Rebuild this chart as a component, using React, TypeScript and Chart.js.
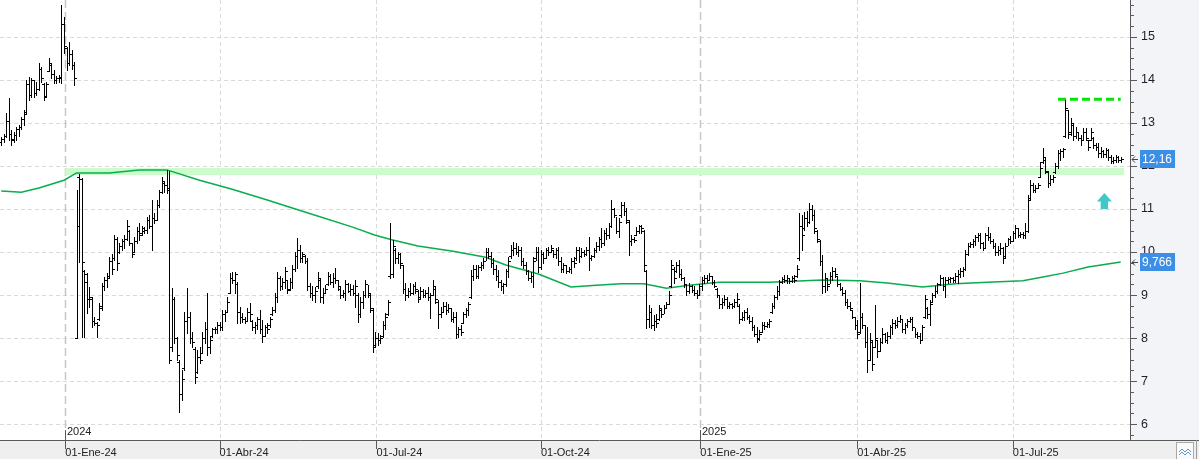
import React, { useEffect, useRef } from 'react';
import { Chart, registerables } from 'chart.js';
Chart.register(...registerables);

// ---- axis data ----
const tickIdx = [25.5, 87, 149.5, 215, 278.5, 341, 403];
const tickLabels = ['01-Ene-24', '01-Abr-24', '01-Jul-24', '01-Oct-24', '01-Ene-25', '01-Abr-25', '01-Jul-25'];
const yearIdx = [25.5, 278.5];
const yearLabels = ['2024', '2025'];
const yTicks = [6, 7, 8, 9, 10, 11, 12, 13, 14, 15];

// ---- OHLC series (daily bars) ----
const highs = [
  12.67,12.75,13.23,13.58,12.84,12.80,12.91,12.95,13.15,13.30,
  14.00,14.08,14.05,14.00,13.95,14.39,14.30,13.92,13.95,14.50,
  14.40,14.23,14.10,14.12,15.74,15.46,14.77,14.88,14.70,14.42,
  11.44,11.81,11.72,9.58,9.51,9.19,8.95,8.49,8.37,8.81,
  9.28,9.42,9.51,9.88,9.95,10.40,10.35,10.21,10.30,10.40,
  10.74,10.51,10.21,10.35,10.58,10.67,10.60,10.58,10.81,10.85,
  11.21,10.90,11.21,11.45,11.74,11.63,11.91,11.88,9.16,8.95,
  8.02,7.49,7.26,8.60,9.16,8.60,8.14,7.79,7.72,7.79,
  8.14,8.37,9.05,8.02,8.23,8.26,8.37,8.37,8.65,8.65,
  8.95,9.51,9.53,9.53,9.30,8.72,8.58,8.49,8.70,8.81,
  8.42,8.37,8.50,8.65,8.42,8.30,8.35,8.49,8.72,9.05,
  9.53,9.45,9.39,9.65,9.35,9.39,9.70,10.00,10.33,10.16,
  10.00,9.92,9.85,9.28,9.20,9.19,9.53,9.40,9.16,9.23,
  9.53,9.50,9.51,9.63,9.35,9.20,9.12,9.35,9.28,9.25,
  9.23,9.35,9.05,8.95,9.10,9.35,9.23,9.05,8.70,8.14,
  8.12,8.07,8.40,8.58,8.88,10.67,10.28,10.10,10.00,9.98,
  9.70,9.28,9.16,9.28,9.25,9.30,9.12,9.19,9.15,9.12,
  9.19,9.05,9.35,9.20,8.88,8.72,8.84,8.84,8.80,8.70,
  8.60,8.60,8.26,8.30,8.60,8.70,8.84,9.58,9.70,9.70,
  9.70,9.77,9.86,10.09,10.09,10.00,9.85,9.70,9.58,9.35,
  9.28,9.60,9.88,10.16,10.23,10.20,10.15,10.12,9.85,9.77,
  9.58,9.53,9.88,10.12,10.12,10.05,10.00,10.10,10.12,10.16,
  10.05,10.10,10.12,9.88,9.75,9.70,9.65,9.86,9.88,10.12,
  10.12,10.10,10.05,10.12,10.35,9.93,10.10,10.23,10.35,10.56,
  10.51,10.55,10.67,11.21,11.02,10.81,10.79,11.16,11.16,11.02,
  10.74,10.40,10.35,10.58,10.63,10.63,10.51,9.58,8.77,8.70,
  8.53,8.55,8.77,8.70,8.77,8.84,9.10,9.81,9.65,9.77,
  9.81,9.60,9.42,9.23,9.28,9.23,9.20,9.12,9.25,9.42,
  9.46,9.46,9.51,9.45,9.35,9.16,9.00,8.93,9.00,8.95,
  8.84,8.81,8.90,9.05,8.80,8.60,8.65,8.70,8.53,8.49,
  8.30,8.26,8.19,8.37,8.37,8.37,8.44,8.81,9.00,9.20,
  9.35,9.42,9.46,9.46,9.39,9.45,9.46,9.70,10.90,10.86,
  10.93,10.95,11.14,11.10,10.98,10.51,10.28,9.93,9.51,9.40,
  9.53,9.65,9.63,9.45,9.28,9.19,9.12,8.90,8.84,8.65,
  8.50,8.42,9.28,8.58,8.30,8.26,8.12,7.95,8.77,7.95,
  8.00,8.23,8.12,8.14,8.30,8.44,8.42,8.48,8.53,8.45,
  8.35,8.45,8.49,8.49,8.23,8.15,8.12,8.30,9.00,8.72,
  8.88,9.05,9.20,9.28,9.46,9.42,9.42,9.42,9.42,9.42,
  9.51,9.58,9.63,9.65,10.05,10.21,10.23,10.30,10.40,10.44,
  10.44,10.23,10.45,10.58,10.44,10.30,10.21,10.15,10.21,10.12,
  10.21,10.33,10.38,10.50,10.63,10.55,10.47,10.47,10.67,11.33,
  11.67,11.60,11.55,11.60,12.09,12.42,12.20,11.88,11.79,11.80,
  12.07,12.37,12.40,12.42,13.53,13.30,13.12,13.00,12.90,12.80,
  12.72,12.88,12.88,12.60,12.88,12.67,12.53,12.53,12.45,12.37,
  12.42,12.40,12.26,12.22,12.26,12.24,12.21,
];
const lows = [
  12.50,12.55,12.67,12.60,12.50,12.55,12.60,12.70,12.85,12.95,
  13.23,13.53,13.60,13.60,13.65,13.77,13.95,13.53,13.60,14.20,
  14.05,13.92,13.92,13.95,13.93,14.63,14.23,14.35,14.25,13.88,
  8.00,9.77,8.02,8.02,8.58,8.72,8.26,8.30,8.02,8.42,
  8.65,9.12,9.19,9.42,9.50,9.81,9.58,9.98,10.05,10.09,
  10.28,10.16,9.88,10.00,10.21,10.28,10.40,10.44,10.44,10.55,
  10.05,10.67,10.74,11.05,11.37,11.40,11.37,7.42,7.70,7.88,
  7.49,6.28,6.56,7.26,8.12,7.88,7.79,6.95,7.19,7.42,
  7.65,7.88,7.60,7.65,8.02,8.12,8.12,8.19,8.19,8.40,
  8.60,9.05,9.28,9.05,8.35,8.35,8.37,8.35,8.40,8.42,
  8.19,8.12,8.20,8.12,7.91,8.05,8.12,8.26,8.53,8.60,
  8.84,9.12,9.15,9.16,9.05,9.12,9.16,9.55,9.63,9.77,
  9.77,9.74,9.12,8.95,8.88,8.84,9.16,8.85,8.81,9.05,
  9.23,9.25,9.19,9.28,9.12,8.93,8.95,8.88,9.07,9.00,
  9.00,8.72,8.37,8.49,8.70,8.95,8.95,8.60,7.67,7.79,
  7.84,7.88,8.02,8.20,8.53,9.40,9.42,9.74,9.74,9.63,
  9.05,8.88,8.95,9.00,9.02,9.05,8.84,8.93,8.95,8.95,
  8.88,8.47,9.00,8.81,8.23,8.49,8.60,8.55,8.60,8.40,
  8.37,8.00,8.02,8.07,8.35,8.50,8.53,8.93,9.35,9.39,
  9.40,9.58,9.63,9.81,9.85,9.65,9.50,9.35,9.19,9.12,
  9.05,9.20,9.42,9.86,9.93,9.95,9.90,9.70,9.63,9.50,
  9.35,9.30,9.19,9.81,9.53,9.60,9.74,9.85,9.93,10.00,
  9.88,9.85,9.70,9.53,9.53,9.51,9.53,9.51,9.65,9.81,
  9.77,9.88,9.90,9.93,9.58,9.81,9.88,10.00,10.05,10.12,
  10.16,10.30,10.33,10.58,10.81,10.44,10.35,10.81,10.85,10.67,
  9.93,10.16,10.23,10.40,10.44,10.45,9.58,8.23,8.26,8.23,
  8.19,8.25,8.42,8.49,8.58,8.70,8.80,9.19,9.28,9.53,
  9.42,9.35,9.19,9.00,9.05,9.07,9.00,8.93,9.00,9.12,
  9.28,9.30,9.35,9.25,9.19,8.95,8.70,8.70,8.77,8.70,
  8.70,8.70,8.72,8.77,8.35,8.42,8.42,8.45,8.35,8.19,
  8.05,7.91,7.95,8.14,8.20,8.26,8.26,8.58,8.70,8.90,
  9.00,9.28,9.30,9.28,9.28,9.30,9.30,9.42,9.81,10.05,
  10.51,10.60,10.67,10.75,10.44,10.23,9.70,9.05,9.07,9.12,
  9.28,9.35,9.42,9.20,9.12,9.00,8.77,8.70,8.65,8.47,
  8.20,8.00,8.12,8.23,7.80,7.21,7.49,7.26,7.79,7.56,
  7.70,7.88,7.90,7.88,8.00,8.10,8.23,8.25,8.37,8.15,
  8.12,8.25,8.37,8.19,8.02,8.00,7.88,7.95,8.47,8.47,
  8.30,8.84,8.95,9.05,9.23,9.12,8.95,9.28,9.30,9.30,
  9.30,9.28,9.42,9.45,9.58,9.93,10.12,10.12,10.16,10.25,
  10.09,10.05,10.10,10.28,10.21,10.10,9.93,9.93,9.95,9.74,
  9.88,10.16,10.20,10.25,10.33,10.35,10.35,10.33,10.33,10.47,
  11.21,11.40,11.40,11.49,11.74,12.07,11.84,11.51,11.55,11.63,
  11.84,11.95,12.14,12.20,12.67,12.65,12.72,12.60,12.65,12.60,
  12.49,12.60,12.60,12.37,12.60,12.42,12.37,12.21,12.21,12.21,
  12.21,12.15,12.07,12.07,12.09,12.10,12.09,
];
const opens = [
  12.55,12.62,12.70,13.05,12.75,12.60,12.72,12.85,12.90,13.10,
  13.25,13.90,13.65,14.00,13.70,13.80,14.25,13.90,13.62,14.20,
  14.35,14.15,14.00,14.05,14.05,15.30,14.75,14.40,14.60,14.35,
  8.00,11.75,11.70,9.55,9.30,8.90,8.90,8.40,8.35,8.45,
  8.70,9.20,9.35,9.45,9.80,9.85,10.30,10.00,10.15,10.25,
  10.30,10.50,10.20,10.00,10.25,10.50,10.45,10.50,10.52,10.75,
  10.60,10.80,10.75,11.10,11.40,11.60,11.55,11.45,7.80,8.90,
  8.00,7.45,6.70,7.30,8.40,8.50,8.00,7.75,7.20,7.55,
  7.65,8.00,8.20,7.80,8.05,8.20,8.20,8.30,8.25,8.55,
  8.60,9.05,9.40,9.35,9.25,8.60,8.50,8.45,8.40,8.60,
  8.40,8.25,8.30,8.45,8.20,8.05,8.25,8.30,8.55,8.65,
  8.95,9.40,9.20,9.30,9.35,9.15,9.30,9.60,9.90,10.05,
  9.85,9.90,9.80,9.20,9.05,9.00,9.20,9.35,8.95,9.05,
  9.25,9.45,9.30,9.40,9.35,9.15,9.00,9.05,9.25,9.10,
  9.15,9.05,9.00,8.55,8.85,9.00,9.25,9.00,8.65,7.85,
  8.00,7.95,8.05,8.30,8.55,9.45,9.50,10.05,9.85,9.95,
  9.70,9.15,9.00,9.10,9.05,9.20,9.10,8.95,9.10,9.00,
  9.05,8.95,9.00,9.15,8.85,8.55,8.60,8.75,8.65,8.70,
  8.45,8.50,8.10,8.20,8.35,8.55,8.65,8.95,9.45,9.60,
  9.45,9.65,9.70,9.80,10.00,9.90,9.75,9.60,9.45,9.30,
  9.20,9.25,9.55,9.90,10.05,10.10,10.00,10.05,9.80,9.70,
  9.55,9.40,9.45,9.85,10.00,9.65,9.95,9.85,10.05,10.00,
  10.05,9.95,10.05,9.80,9.60,9.70,9.55,9.60,9.80,9.85,
  10.05,9.90,10.00,9.95,10.05,9.85,9.90,10.05,10.15,10.30,
  10.20,10.45,10.40,10.60,11.00,10.85,10.50,10.85,11.10,10.95,
  10.70,10.25,10.30,10.40,10.50,10.60,10.50,9.55,8.45,8.60,
  8.30,8.40,8.45,8.65,8.55,8.70,8.80,9.20,9.60,9.55,
  9.70,9.50,9.40,9.25,9.10,9.20,9.12,9.05,9.00,9.20,
  9.35,9.40,9.35,9.45,9.30,9.15,9.00,8.80,8.85,8.90,
  8.75,8.80,8.75,8.85,8.75,8.45,8.50,8.60,8.50,8.40,
  8.25,8.10,8.00,8.15,8.30,8.28,8.32,8.60,8.75,8.95,
  9.10,9.30,9.38,9.35,9.40,9.32,9.40,9.45,9.85,10.60,
  10.55,10.80,10.70,11.00,10.85,10.50,10.25,9.80,9.20,9.40,
  9.25,9.45,9.55,9.45,9.25,9.15,9.05,8.85,8.75,8.65,
  8.50,8.30,8.15,8.50,8.30,7.90,7.50,7.90,7.80,7.95,
  7.70,7.90,8.10,7.95,8.05,8.25,8.35,8.30,8.40,8.45,
  8.20,8.30,8.40,8.45,8.25,8.10,8.05,7.95,8.50,8.70,
  8.55,8.85,9.00,9.10,9.25,9.40,9.20,9.35,9.38,9.40,
  9.35,9.45,9.50,9.55,9.60,9.95,10.15,10.18,10.25,10.35,
  10.40,10.20,10.10,10.40,10.35,10.25,10.15,10.00,10.05,10.10,
  9.90,10.15,10.30,10.25,10.45,10.55,10.40,10.42,10.40,10.50,
  11.25,11.55,11.45,11.50,11.75,12.10,12.15,11.85,11.60,11.70,
  11.85,12.00,12.30,12.35,12.70,13.30,12.80,12.95,12.70,12.80,
  12.65,12.60,12.80,12.60,12.60,12.65,12.50,12.45,12.30,12.35,
  12.28,12.38,12.20,12.12,12.15,12.20,12.14,
];
const closes = [
  12.62,12.70,13.05,12.75,12.62,12.72,12.85,12.90,13.10,13.20,
  13.90,13.65,14.00,13.70,13.80,14.25,14.05,13.60,13.90,14.40,
  14.15,14.00,14.05,14.08,15.30,14.80,14.40,14.60,14.35,14.05,
  10.60,11.70,9.77,9.50,8.90,8.95,8.40,8.35,8.30,8.75,
  9.20,9.35,9.40,9.80,9.60,10.30,9.75,10.15,10.25,10.30,
  10.60,10.20,9.95,10.25,10.50,10.40,10.55,10.52,10.75,10.60,
  10.80,10.75,11.10,11.40,11.65,11.55,11.50,7.50,8.90,8.00,
  7.60,6.70,7.05,8.40,8.50,8.00,7.90,7.10,7.55,7.50,
  8.00,8.20,7.80,7.95,8.20,8.20,8.30,8.25,8.55,8.60,
  8.85,9.40,9.35,9.50,8.60,8.50,8.45,8.40,8.60,8.55,
  8.25,8.30,8.45,8.20,8.05,8.25,8.20,8.45,8.65,8.95,
  9.40,9.20,9.30,9.55,9.12,9.30,9.60,9.90,10.05,9.85,
  9.95,9.80,9.20,9.05,9.00,9.10,9.40,8.95,9.05,9.15,
  9.45,9.30,9.40,9.35,9.20,9.00,9.05,9.25,9.10,9.15,
  9.05,9.20,8.55,8.85,9.00,9.25,9.05,8.70,7.80,8.00,
  7.95,8.00,8.30,8.50,8.85,9.50,10.15,9.85,9.95,9.75,
  9.15,9.00,9.10,9.05,9.20,9.15,8.90,9.10,9.00,9.05,
  8.95,9.00,9.20,8.90,8.55,8.60,8.75,8.65,8.70,8.45,
  8.50,8.10,8.20,8.15,8.55,8.65,8.80,9.45,9.60,9.45,
  9.65,9.70,9.80,10.00,9.90,9.75,9.60,9.45,9.30,9.20,
  9.25,9.55,9.80,10.05,10.10,10.00,10.05,9.80,9.70,9.55,
  9.40,9.45,9.80,10.00,9.65,9.95,9.85,10.05,10.00,10.10,
  9.95,10.05,9.80,9.60,9.70,9.55,9.60,9.80,9.75,10.05,
  9.90,10.00,9.95,10.05,9.85,9.90,10.05,10.15,10.30,10.20,
  10.45,10.40,10.60,11.00,10.85,10.50,10.70,11.10,10.95,10.75,
  10.25,10.30,10.28,10.50,10.60,10.55,9.70,8.45,8.60,8.30,
  8.40,8.35,8.70,8.55,8.70,8.80,9.00,9.70,9.40,9.70,
  9.50,9.40,9.25,9.10,9.20,9.12,9.05,9.00,9.20,9.35,
  9.40,9.35,9.45,9.30,9.22,9.00,8.80,8.85,8.90,8.75,
  8.80,8.75,8.85,8.90,8.45,8.50,8.60,8.50,8.40,8.25,
  8.10,7.98,8.10,8.30,8.28,8.32,8.40,8.75,8.95,9.10,
  9.30,9.38,9.35,9.40,9.32,9.40,9.35,9.60,10.60,10.40,
  10.80,10.70,11.00,10.85,10.55,10.30,9.80,9.20,9.40,9.20,
  9.45,9.55,9.50,9.25,9.15,9.05,8.85,8.75,8.70,8.50,
  8.30,8.10,8.50,8.30,7.90,7.50,7.95,7.40,8.00,7.70,
  7.90,8.10,7.95,8.05,8.25,8.35,8.30,8.40,8.45,8.20,
  8.30,8.40,8.45,8.25,8.10,8.05,7.95,8.25,8.90,8.55,
  8.80,9.00,9.10,9.25,9.40,9.20,9.35,9.38,9.40,9.35,
  9.45,9.50,9.55,9.60,9.95,10.15,10.18,10.25,10.35,10.40,
  10.20,10.10,10.40,10.35,10.25,10.15,10.00,10.05,10.10,9.85,
  10.15,10.30,10.25,10.45,10.55,10.40,10.42,10.40,10.50,11.20,
  11.55,11.45,11.50,11.55,11.95,12.20,11.88,11.60,11.70,11.75,
  12.00,12.30,12.35,12.40,13.35,12.75,13.00,12.70,12.80,12.65,
  12.60,12.80,12.65,12.45,12.80,12.50,12.45,12.30,12.35,12.28,
  12.38,12.20,12.12,12.15,12.20,12.14,12.16,
];

// ---- moving average (read at bar indices) ----
const maIdx = [0, 8, 15, 25, 30, 43, 55, 66, 79, 92, 106, 115, 126, 140, 149, 156, 166, 180, 193, 201, 214, 227, 237, 247, 256, 265, 274, 286, 306, 327, 342, 353, 367, 380, 393, 407, 415, 423, 433, 446];
const maVals = [11.42, 11.39, 11.49, 11.67, 11.84, 11.84, 11.91, 11.91, 11.67, 11.46, 11.21, 11.04, 10.84, 10.58, 10.39, 10.28, 10.14, 10.02, 9.88, 9.70, 9.49, 9.19, 9.23, 9.26, 9.26, 9.16, 9.23, 9.30, 9.30, 9.35, 9.33, 9.28, 9.19, 9.26, 9.30, 9.33, 9.42, 9.51, 9.65, 9.766];

// ---- annotations ----
const bandStart = 25.5;
const bandEnd = 447.3;
const bandLow = 11.79;
const bandHigh = 11.95;
const levelStart = 421;
const levelEnd = 446;
const levelValue = 13.55;
const arrowIdx = 439.5;
const arrowTip = 11.37;

const xMin = -0.5;
const xMax = 449.7;
const yMin = 5.63;
const yMax = 15.86;

const FONT = 'Liberation Sans, Arial, sans-serif';

const chartPlugin = {
  id: 'stockDecor',
  beforeDraw(chart: any) {
    const { ctx, width, height, chartArea: ca } = chart;
    ctx.save();
    ctx.fillStyle = '#ffffff';
    ctx.fillRect(0, 0, width, height);
    ctx.fillStyle = '#f3f4f7';
    ctx.fillRect(ca.right, 0, width - ca.right, ca.bottom);
    ctx.fillStyle = '#efefef';
    ctx.fillRect(0, ca.bottom, width, height - ca.bottom);
    ctx.restore();
  },
  beforeDatasetsDraw(chart: any) {
    const { ctx, chartArea: ca, scales } = chart;
    const x = scales.x, y = scales.y;
    ctx.save();
    ctx.lineWidth = 1;
    ctx.strokeStyle = '#d9d9d9';
    ctx.setLineDash([4, 3]);
    for (const v of yTicks) {
      const py = Math.round(y.getPixelForValue(v)) + 0.5;
      ctx.beginPath();
      ctx.moveTo(ca.left, py);
      ctx.lineTo(ca.right, py);
      ctx.stroke();
    }
    for (const t of tickIdx) {
      if (yearIdx.includes(t)) continue;
      const px = Math.round(x.getPixelForValue(t)) + 0.5;
      ctx.beginPath();
      ctx.moveTo(px, ca.top);
      ctx.lineTo(px, ca.bottom);
      ctx.stroke();
    }
    ctx.strokeStyle = '#c6c6c6';
    ctx.lineWidth = 1.5;
    ctx.setLineDash([8, 4]);
    for (const t of yearIdx) {
      const px = Math.round(x.getPixelForValue(t)) + 0.5;
      ctx.beginPath();
      ctx.moveTo(px, ca.top);
      ctx.lineTo(px, ca.bottom - 10);
      ctx.stroke();
    }
    ctx.setLineDash([]);
    // support band
    const bx0 = x.getPixelForValue(bandStart);
    const bx1 = x.getPixelForValue(bandEnd);
    const by0 = Math.round(y.getPixelForValue(bandHigh));
    const by1 = Math.round(y.getPixelForValue(bandLow));
    ctx.fillStyle = '#ccfccc';
    ctx.fillRect(bx0, by0, bx1 - bx0, by1 - by0);
    ctx.restore();
  },
  afterDatasetsDraw(chart: any) {
    const { ctx, chartArea: ca, scales, width, height } = chart;
    const x = scales.x, y = scales.y;
    ctx.save();
    ctx.beginPath();
    ctx.rect(ca.left, ca.top, ca.right - ca.left, ca.bottom - ca.top);
    ctx.clip();
    // OHLC bars
    const n = Math.min(highs.length, lows.length, opens.length, closes.length);
    ctx.fillStyle = '#000000';
    for (let i = 0; i < n; i++) {
      const px = Math.round(x.getPixelForValue(i));
      const yh = Math.round(y.getPixelForValue(highs[i]));
      const yl = Math.round(y.getPixelForValue(lows[i]));
      ctx.fillRect(px, yh, 1, Math.max(1, yl - yh + 1));
      ctx.fillRect(px - 2, Math.round(y.getPixelForValue(opens[i])), 2, 1);
      ctx.fillRect(px + 1, Math.round(y.getPixelForValue(closes[i])), 2, 1);
    }
    // arrow
    const ax = x.getPixelForValue(arrowIdx);
    const ay = y.getPixelForValue(arrowTip);
    ctx.fillStyle = '#40c8c8';
    ctx.beginPath();
    ctx.moveTo(ax, ay);
    ctx.lineTo(ax + 7.5, ay + 8.5);
    ctx.lineTo(ax + 3.7, ay + 8.5);
    ctx.lineTo(ax + 3.7, ay + 16);
    ctx.lineTo(ax - 3.7, ay + 16);
    ctx.lineTo(ax - 3.7, ay + 8.5);
    ctx.lineTo(ax - 7.5, ay + 8.5);
    ctx.closePath();
    ctx.fill();
    ctx.restore();

    ctx.save();
    // axis lines
    ctx.strokeStyle = '#5a5a5a';
    ctx.lineWidth = 1;
    ctx.beginPath();
    ctx.moveTo(ca.right + 0.5, 0);
    ctx.lineTo(ca.right + 0.5, ca.bottom);
    ctx.moveTo(0, ca.bottom + 0.5);
    ctx.lineTo(width, ca.bottom + 0.5);
    ctx.stroke();
    // y tick marks
    ctx.beginPath();
    for (let k = Math.ceil(yMin * 4); k <= Math.floor(yMax * 4); k++) {
      const v = k / 4;
      const py = Math.round(y.getPixelForValue(v)) + 0.5;
      const len = k % 4 === 0 ? 7 : 4;
      ctx.moveTo(ca.right, py);
      ctx.lineTo(ca.right + len, py);
    }
    ctx.stroke();
    // x tick marks
    ctx.beginPath();
    for (const t of tickIdx) {
      const px = Math.round(x.getPixelForValue(t)) + 0.5;
      ctx.moveTo(px, ca.bottom);
      ctx.lineTo(px, ca.bottom + 9);
    }
    for (const t of yearIdx) {
      const px = Math.round(x.getPixelForValue(t)) + 0.5;
      ctx.moveTo(px, ca.bottom - 10);
      ctx.lineTo(px, ca.bottom);
    }
    ctx.stroke();
    // year labels
    ctx.fillStyle = '#222222';
    ctx.font = '11px ' + FONT;
    ctx.textBaseline = 'middle';
    ctx.textAlign = 'left';
    yearIdx.forEach((t, k) => {
      const px = Math.round(x.getPixelForValue(t));
      ctx.fillText(yearLabels[k], px + 2, ca.bottom - 8);
    });
    // price boxes
    const drawBox = (value: number, text: string) => {
      const py = Math.round(y.getPixelForValue(value));
      ctx.font = '12px ' + FONT;
      const w = ctx.measureText(text).width + 5;
      ctx.fillStyle = '#3d8fe5';
      ctx.fillRect(ca.right + 10, py - 9, w, 18);
      ctx.fillStyle = '#ffffff';
      ctx.textBaseline = 'middle';
      ctx.fillText(text, ca.right + 12, py + 0.5);
      ctx.strokeStyle = '#444444';
      ctx.beginPath();
      ctx.moveTo(ca.right + 2, py + 0.5);
      ctx.lineTo(ca.right + 8, py + 0.5);
      ctx.moveTo(ca.right + 5, py - 2.5);
      ctx.lineTo(ca.right + 2, py + 0.5);
      ctx.lineTo(ca.right + 5, py + 3.5);
      ctx.stroke();
    };
    const lastClose = closes[closes.length - 1];
    const lastMa = maVals[maVals.length - 1];
    drawBox(lastClose, lastClose.toFixed(2).replace('.', ','));
    drawBox(lastMa, lastMa.toFixed(3).replace('.', ','));
    // bottom-right button
    ctx.fillStyle = '#fafafa';
    ctx.fillRect(width - 23, ca.bottom + 2, 17, height - ca.bottom - 2);
    ctx.strokeStyle = '#a8a8a8';
    ctx.strokeRect(width - 22.5, ca.bottom + 2.5, 17, height - ca.bottom - 2);
    ctx.strokeStyle = '#5b9bd5';
    ctx.beginPath();
    const bx = width - 20, byy = ca.bottom + 9;
    ctx.moveTo(bx, byy + 3); ctx.lineTo(bx + 3, byy); ctx.lineTo(bx + 6, byy + 3); ctx.lineTo(bx + 9, byy); ctx.lineTo(bx + 12, byy + 3);
    ctx.moveTo(bx, byy + 6); ctx.lineTo(bx + 3, byy + 3); ctx.lineTo(bx + 6, byy + 6); ctx.lineTo(bx + 9, byy + 3); ctx.lineTo(bx + 12, byy + 6);
    ctx.stroke();
    ctx.strokeStyle = '#9a9a9a';
    ctx.beginPath();
    ctx.moveTo(width - 2.5, ca.bottom);
    ctx.lineTo(width - 2.5, height);
    ctx.stroke();
    ctx.restore();
  },
};

export default function App() {
  const ref = useRef<HTMLCanvasElement | null>(null);
  useEffect(() => {
    document.body.style.margin = '0';
    const canvas = ref.current;
    if (!canvas) return;
    const chart = new Chart(canvas, {
      type: 'line',
      data: {
        datasets: [
          {
            label: 'Media',
            data: maIdx.map((xv, k) => ({ x: xv, y: maVals[k] })),
            borderColor: '#0aad4e',
            borderWidth: 1.5,
            pointRadius: 0,
            tension: 0,
            fill: false,
          },
          {
            label: 'Resistencia',
            data: [
              { x: levelStart, y: levelValue },
              { x: levelEnd, y: levelValue },
            ],
            borderColor: '#00e600',
            borderWidth: 3,
            borderDash: [8, 4],
            pointRadius: 0,
            fill: false,
          },
        ],
      },
      options: {
        responsive: false,
        animation: false,
        devicePixelRatio: 1,
        events: [],
        layout: { padding: 0 },
        plugins: { legend: { display: false }, tooltip: { enabled: false } },
        scales: {
          x: {
            type: 'linear',
            position: 'bottom',
            min: xMin,
            max: xMax,
            afterBuildTicks: (s: any) => {
              s.ticks = tickIdx.map((v) => ({ value: v }));
            },
            afterFit: (s: any) => {
              s.height = 19;
              s.paddingLeft = 0;
              s.paddingRight = 0;
              s.paddingTop = 0;
              s.paddingBottom = 0;
            },
            grid: { display: false, drawTicks: false },
            border: { display: false },
            ticks: {
              autoSkip: false,
              maxRotation: 0,
              align: 'start',
              padding: 6,
              color: '#222222',
              font: { family: FONT, size: 11 },
              callback: (_v: any, i: number) => tickLabels[i] ?? '',
            },
          },
          y: {
            type: 'linear',
            position: 'right',
            min: yMin,
            max: yMax,
            afterBuildTicks: (s: any) => {
              s.ticks = yTicks.map((v) => ({ value: v }));
            },
            afterFit: (s: any) => {
              s.width = 69;
              s.paddingTop = 0;
              s.paddingBottom = 0;
              s.paddingLeft = 0;
              s.paddingRight = 0;
            },
            grid: { display: false, drawTicks: false },
            border: { display: false },
            ticks: {
              padding: 11,
              color: '#1e1e2e',
              font: { family: FONT, size: 12.5 },
              callback: (v: any) => String(v),
            },
          },
        },
      },
      plugins: [chartPlugin],
    } as any);
    return () => chart.destroy();
  }, []);
  return (
    <div style={{ width: 1199, height: 459 }}>
      <canvas ref={ref} width={1199} height={459} style={{ display: 'block' }} />
    </div>
  );
}
